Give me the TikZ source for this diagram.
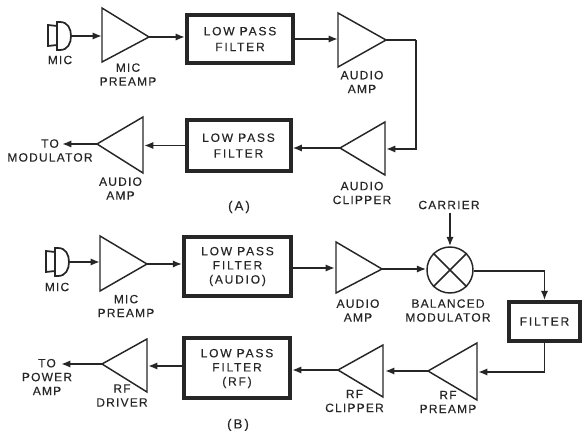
\documentclass[tikz,border=0pt]{standalone}
\usepackage{fontspec}
\setmainfont{Liberation Sans}
\usetikzlibrary{arrows.meta,calc}
\definecolor{ink}{HTML}{262626}
\newfontfamily\lblfont[LetterSpace=10,FakeBold=0.25]{Liberation Sans}
\newfontfamily\boxfont[LetterSpace=15,FakeBold=0.25]{Liberation Sans}
\tikzset{
  x=0.75pt,y=-0.75pt,
  lbl/.style={inner sep=0pt,font=\lblfont\fontsize{9}{10.4}\selectfont,text=ink,align=center},
  filterbox/.style={draw=ink,line width=3pt,fill=white,inner sep=0pt,align=center,
    font=\boxfont\fontsize{9}{10.6}\selectfont,text=ink},
  amp/.style={draw=ink,line width=1.1pt,line join=miter},
  wire/.style={draw=ink,line width=1.4pt},
  arrowwire/.style={wire,-{Latex[length=7pt,width=5.5pt]}},
  micpart/.style={draw=ink,line width=1.3pt},
  caption/.style={inner sep=0pt,font=\boxfont\fontsize{10}{12}\selectfont,text=ink}
}
\newcommand{\micsym}[3]{% name, x, y of centre of joint
  \draw[micpart] (#2,#3-10) -- (#2-9,#3-11) -- (#2-9,#3+10) -- (#2,#3+9);
  \draw[micpart] (#2,#3-14) -- (#2+3,#3-14) .. controls (#2+11,#3-14) and (#2+14,#3-7) .. (#2+14,#3)
     coordinate (#1) .. controls (#2+14,#3+7) and (#2+11,#3+14) .. (#2+3,#3+14) -- (#2,#3+14) -- cycle;
}
\begin{document}
\begin{tikzpicture}
\useasboundingbox (0,0) rectangle (583,431);
%% ---------- (A) ----------
\micsym{micA}{57}{36}
\node[lbl] (micAl) at (60,60) {MIC};
\draw[amp] (102,8) -- (102,62) -- (149,37) coordinate (preA) -- cycle;
\coordinate (preAin) at (102,36);
\node[lbl] (preAl) at (128,74.5) {MIC\\PREAMP};
\node[filterbox,minimum width=79.5pt,minimum height=36pt,font=\boxfont\fontsize{9}{11.8}\selectfont] (lpfA1) at (240,39) {LOW PASS\\FILTER};
\draw[amp] (338,13) -- (338,67) -- (386,40) coordinate (ampA) -- cycle;
\coordinate (ampAin) at (338,39);
\node[lbl] (ampAl) at (362,82) {AUDIO\\AMP};
\draw[amp] (385,122) -- (385,175) -- (340,148) coordinate (clipA) -- cycle;
\coordinate (clipAin) at (386,149);
\coordinate (turnA) at (416,40);
\node[lbl] (clipAl) at (362,193) {AUDIO\\CLIPPER};
\node[filterbox,minimum width=78pt,minimum height=38pt,font=\boxfont\fontsize{9}{11.8}\selectfont] (lpfA2) at (238.5,145.5) {LOW PASS\\FILTER};
\draw[amp] (143,117) -- (143,173) -- (97,144) coordinate (outA) -- cycle;
\coordinate (outAin) at (144,145.5);
\node[lbl] (outAl) at (120.5,188.5) {AUDIO\\AMP};
\node[lbl] (toA) at (50,150.5) {TO\\MODULATOR};
\coordinate (toAend) at (62,144);
\node[caption] (capA) at (239,207) {(A)};
\draw[arrowwire] (micA) -- (preAin);
\draw[arrowwire] (preA) -- (preA -| lpfA1.west);
\draw[arrowwire] (lpfA1.east) -- (ampAin);
\draw[wire] (ampA) -- (turnA);
\draw[arrowwire,line join=miter] (turnA) |- (clipAin);
\draw[arrowwire] (clipA) -- (clipA -| lpfA2.east);
\draw[arrowwire] (lpfA2.west) -- (outAin);
\draw[arrowwire] (outA) -- (toAend);
%% ---------- (B) ----------
\micsym{micB}{55}{262}
\node[lbl] (micBl) at (57,287) {MIC};
\draw[amp] (100,236) -- (100,291) -- (147,264) coordinate (preB) -- cycle;
\coordinate (preBin) at (100,262);
\node[lbl] (preBl) at (126,306) {MIC\\PREAMP};
\node[filterbox,minimum width=80pt,minimum height=44pt] (lpfB1) at (237.5,266.5) {LOW PASS\\FILTER\\(AUDIO)};
\draw[amp] (336,242) -- (336,293) -- (382,269) coordinate (ampB) -- cycle;
\coordinate (ampBin) at (335,268);
\node[lbl] (ampBl) at (358,310.5) {AUDIO\\AMP};
\node[draw=ink,line width=1.1pt,circle,minimum size=34.5pt,inner sep=0pt] (modB) at (450,270) {};
\draw[ink,line width=1.1pt] (modB.45) -- (modB.225) (modB.135) -- (modB.315);
\node[lbl] (modBl) at (448,310.5) {BALANCED\\MODULATOR};
\node[lbl] (carB) at (449,205) {CARRIER};
\node[filterbox,minimum width=53pt,minimum height=29pt] (filtB) at (544.5,321.5) {FILTER};
\draw[amp] (477,343) -- (477,400) -- (428,371) coordinate (prfB) -- cycle;
\coordinate (prfBin) at (478,372);
\coordinate (turnB) at (544.5,271);
\node[lbl] (prfBl) at (448,402) {RF\\PREAMP};
\draw[amp] (383,345) -- (383,397) -- (338,370) coordinate (clipB) -- cycle;
\coordinate (clipBin) at (385,371);
\node[lbl] (clipBl) at (354.5,401) {RF\\CLIPPER};
\node[filterbox,minimum width=79.5pt,minimum height=45pt] (lpfB2) at (237,368.5) {LOW PASS\\FILTER\\(RF)};
\draw[amp] (147,339) -- (147,392) -- (102,364) coordinate (drvB) -- cycle;
\coordinate (drvBin) at (148,366);
\node[lbl] (drvBl) at (122,395.5) {RF\\DRIVER};
\node[lbl] (toB) at (47,377) {TO\\POWER\\AMP};
\coordinate (toBend) at (61,364);
\node[caption] (capB) at (238,425) {(B)};
\draw[arrowwire] (micB) -- (preBin);
\draw[arrowwire] (preB) -- (preB -| lpfB1.west);
\draw[arrowwire] (lpfB1.east |- ampBin) -- (ampBin);
\draw[arrowwire] (ampB) -- (ampB -| modB.west);
\draw[arrowwire] (modB.north |- carB.south) ++(0,3) -- (modB.north);
\draw[arrowwire,line join=miter] (modB.east |- turnB) -| (filtB.north);
\draw[wire] (filtB.south) -- (turnB |- prfBin);
\draw[arrowwire] (turnB |- prfBin) -- (prfBin);
\draw[arrowwire] (prfB) -- (prfB -| clipBin);
\draw[arrowwire] (clipB) -- (clipB -| lpfB2.east);
\draw[arrowwire] (lpfB2.west |- drvBin) -- (drvBin);
\draw[arrowwire] (drvB) -- (toBend);
\end{tikzpicture}
\end{document}
